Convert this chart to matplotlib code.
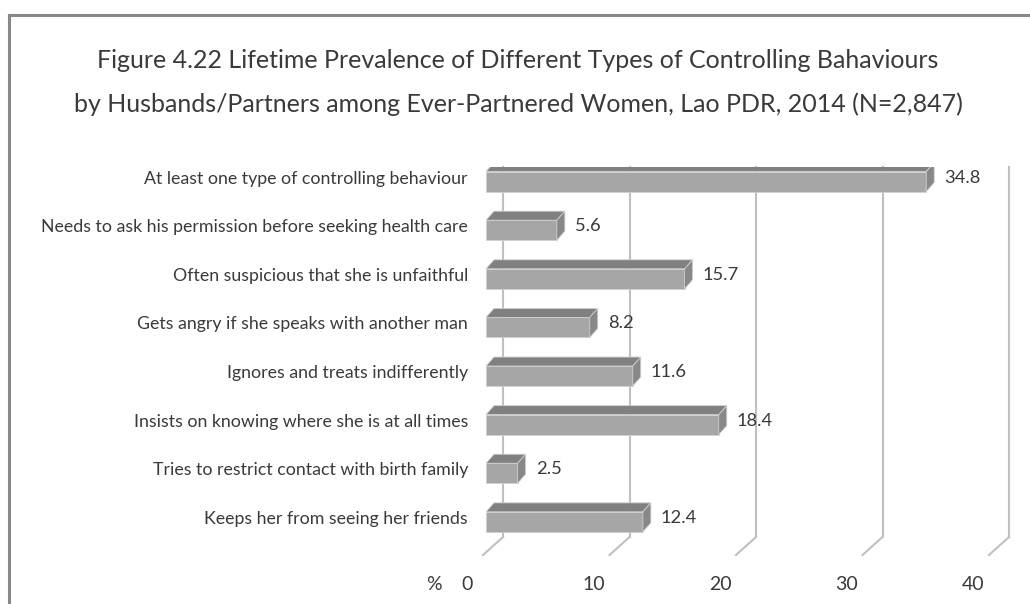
import matplotlib
matplotlib.use('Agg')
import matplotlib.pyplot as plt
from matplotlib.patches import Polygon
from matplotlib.transforms import ScaledTranslation

# Data
categories = [
    'At least one type of controlling behaviour',
    'Needs to ask his permission before seeking health care',
    'Often suspicious that she is unfaithful',
    'Gets angry if she speaks with another man',
    'Ignores and treats indifferently',
    'Insists on knowing where she is at all times',
    'Tries to restrict contact with birth family',
    'Keeps her from seeing her friends',
]
values = [34.8, 5.6, 15.7, 8.2, 11.6, 18.4, 2.5, 12.4]
x_ticks = [0, 10, 20, 30, 40]
title_lines = [
    'Figure 4.22 Lifetime Prevalence of Different Types of Controlling Bahaviours',
    'by Husbands/Partners among Ever-Partnered Women, Lao PDR, 2014 (N=2,847)',
]

# Style
FONT = ['Lato', 'DejaVu Sans']
TEXT = '#3a3a3a'
FRONT = '#a6a6a6'
TOP = '#808080'
SIDE = '#888888'
GRID = '#c0c0c0'
DPI = 100
W, H = 1030, 604

plt.rcParams['font.family'] = FONT

fig = plt.figure(figsize=(W / DPI, H / DPI), dpi=DPI)
fig.patch.set_facecolor('white')

# plot area in pixels (bar front plane)
left_px, right_px = 486, 992
top_px, bottom_px = 167, 552
ax = fig.add_axes([left_px / W, 1 - bottom_px / H,
                   (right_px - left_px) / W, (bottom_px - top_px) / H])
ax.set_xlim(0, 40)
ax.set_ylim(7.62, -0.30)
ax.axis('off')

px_x = (right_px - left_px) / 40.0      # pixels per x unit
px_y = (bottom_px - top_px) / 7.92      # pixels per category

bar_h = 20 / px_y
dep_x, dep_y = 8 / px_x, 9 / px_y        # bar depth
wall_x, wall_y = 17 / px_x, 15 / px_y    # back wall offset
floor_x, floor_y = 3 / px_x, 3 / px_y    # front floor offset
y0, y1 = ax.get_ylim()


def shifted(dx, dy):
    return ax.transData + ScaledTranslation(dx / DPI, dy / DPI, fig.dpi_scale_trans)


# gridlines on back wall + floor diagonals
for t in x_ticks:
    ax.plot([t + wall_x, t + wall_x], [y1, y0 - wall_y], color=GRID, lw=1.5,
            clip_on=False, zorder=1)
    ax.plot([t + wall_x, t - floor_x], [y0 - wall_y, y0 + floor_y], color=GRID,
            lw=1.5, clip_on=False, zorder=1)
    ax.text(t - floor_x, y0 + floor_y, str(t), transform=shifted(-16, -29),
            ha='center', va='center', fontsize=14, color=TEXT)
ax.text(0 - floor_x, y0 + floor_y, '%', transform=shifted(-49, -29),
        ha='center', va='center', fontsize=14, color=TEXT)

# bars
edge = '#d0d0d0'
for i, v in enumerate(values):
    top = i - bar_h / 2
    bot = i + bar_h / 2
    ax.barh(i, v, height=bar_h, color=FRONT, edgecolor=edge, lw=0.6, zorder=3)
    ax.add_patch(Polygon([(0, top), (v, top), (v + dep_x, top - dep_y), (dep_x, top - dep_y)],
                         closed=True, facecolor=TOP, edgecolor=edge, lw=0.6, zorder=3))
    ax.add_patch(Polygon([(v, top), (v + dep_x, top - dep_y), (v + dep_x, bot - dep_y), (v, bot)],
                         closed=True, facecolor=SIDE, edgecolor=edge, lw=0.6, zorder=3))
    ax.text(v, i, f'{v:.1f}', transform=shifted(18, 4),
            ha='left', va='center', fontsize=13.2, color=TEXT, zorder=4)
    ax.text(0, i, categories[i], transform=shifted(-18, 3),
            ha='right', va='center', fontsize=12.8, color=TEXT)

for k, line in enumerate(title_lines):
    fig.text(518 / W, 1 - (60 + 44 * k) / H, line, ha='center', va='center',
             fontsize=18, color=TEXT)

# chart border
fig.add_artist(plt.Line2D([9 / W, 9 / W], [0, 1 - 15 / H], color='#888888', lw=2.2,
                          transform=fig.transFigure))
fig.add_artist(plt.Line2D([9 / W, 1], [1 - 15 / H, 1 - 15 / H], color='#888888', lw=2.2,
                          transform=fig.transFigure))

fig.savefig('out.png', dpi=DPI)
